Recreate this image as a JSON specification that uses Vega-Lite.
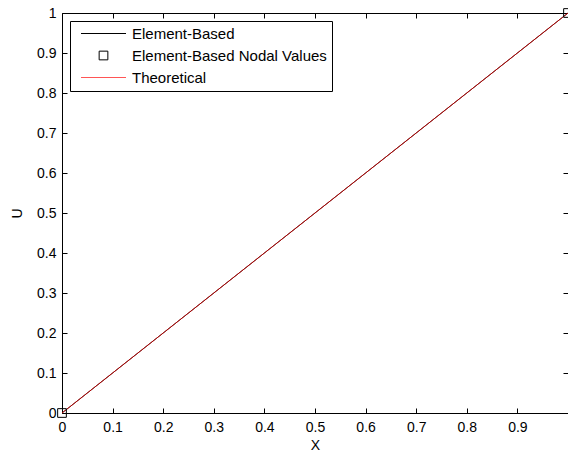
{
  "$schema": "https://vega.github.io/schema/vega-lite/v6.json",
  "width": 506,
  "height": 400,
  "autosize": {"type": "none"},
  "padding": {"left": 62, "top": 13, "right": 0, "bottom": 41},
  "background": "white",
  "config": {
    "view": {"stroke": null},
    "font": "Liberation Sans",
    "axis": {
      "domainColor": "black",
      "tickColor": "black",
      "labelColor": "black",
      "titleColor": "black",
      "labelFont": "Liberation Sans",
      "titleFont": "Liberation Sans",
      "labelFontSize": 14,
      "titleFontSize": 14,
      "titleFontWeight": "normal",
      "labelFlush": false,
      "grid": false,
      "tickSize": -5,
      "domainWidth": 1,
      "tickWidth": 1
    }
  },
  "datasets": {
    "elem": [
      {"x": 0, "u": 0, "series": "Element-Based"},
      {"x": 1, "u": 1, "series": "Element-Based"}
    ],
    "theo": [
      {"x": 0, "u": 0, "series": "Theoretical"},
      {"x": 1, "u": 1, "series": "Theoretical"}
    ],
    "nodes": [
      {"x": 0, "u": 0, "series": "Element-Based Nodal Values"},
      {"x": 1, "u": 1, "series": "Element-Based Nodal Values"}
    ]
  },
  "layer": [
    {
      "data": {"name": "elem"},
      "mark": {"type": "line", "color": "black", "strokeWidth": 1, "clip": false},
      "encoding": {
        "x": {
          "field": "x", "type": "quantitative",
          "scale": {"domain": [0, 1], "nice": false, "zero": false},
          "axis": {"orient": "bottom", "values": [0, 0.1, 0.2, 0.3, 0.4, 0.5, 0.6, 0.7, 0.8, 0.9], "format": "~g", "labelPadding": 12, "labelFlush": false, "title": "X", "titlePadding": 4}
        },
        "y": {
          "field": "u", "type": "quantitative",
          "scale": {"domain": [0, 1], "nice": false, "zero": false},
          "axis": {"orient": "left", "values": [0, 0.1, 0.2, 0.3, 0.4, 0.5, 0.6, 0.7, 0.8, 0.9, 1], "format": "~g", "labelPadding": 11, "labelFlush": false, "title": "U", "titlePadding": 12}
        }
      }
    },
    {
      "data": {"name": "theo"},
      "mark": {"type": "line", "color": "#ff0000", "strokeWidth": 0.7, "clip": false},
      "encoding": {
        "x": {"field": "x", "type": "quantitative", "axis": null},
        "y": {"field": "u", "type": "quantitative", "axis": null}
      }
    },
    {
      "data": {"name": "nodes"},
      "mark": {"type": "point", "filled": false, "size": 100, "strokeWidth": 1, "opacity": 1, "clip": false},
      "encoding": {
        "x": {
          "field": "x", "type": "quantitative",
          "axis": {"orient": "top", "values": [0, 0.1, 0.2, 0.3, 0.4, 0.5, 0.6, 0.7, 0.8, 0.9], "labels": false, "title": null}
        },
        "y": {
          "field": "u", "type": "quantitative",
          "axis": {"orient": "right", "values": [0, 0.1, 0.2, 0.3, 0.4, 0.5, 0.6, 0.7, 0.8, 0.9, 1], "labels": false, "domain": false, "title": null}
        },
        "shape": {
          "field": "series", "type": "nominal",
          "scale": {"domain": ["Element-Based", "Element-Based Nodal Values", "Theoretical"], "range": ["M-4.5,0H4.5", "M-0.87,-0.87H0.87V0.87H-0.87Z", "M-4.5,0H4.5"]},
          "legend": {
            "title": null,
            "orient": "none",
            "legendX": 8,
            "legendY": 8,
            "fillColor": "white",
            "strokeColor": "black",
            "padding": 5,
            "labelFontSize": 15,
            "labelColor": "black",
            "labelFont": "Liberation Sans",
            "labelLimit": 0,
            "symbolSize": 100,
            "symbolStrokeWidth": 1,
            "symbolOffset": 21,
            "labelOffset": 21,
            "rowPadding": 6,
            "cornerRadius": 0
          }
        },
        "color": {
          "field": "series", "type": "nominal",
          "scale": {"domain": ["Element-Based", "Element-Based Nodal Values", "Theoretical"], "range": ["#000000", "#000000", "#ff5555"]},
          "legend": {
            "title": null,
            "orient": "none",
            "legendX": 8,
            "legendY": 8,
            "fillColor": "white",
            "strokeColor": "black",
            "padding": 5,
            "labelFontSize": 15,
            "labelColor": "black",
            "labelFont": "Liberation Sans",
            "labelLimit": 0,
            "symbolSize": 100,
            "symbolStrokeWidth": 1,
            "symbolOffset": 21,
            "labelOffset": 21,
            "rowPadding": 6,
            "cornerRadius": 0
          }
        }
      }
    }
  ],
  "resolve": {"axis": {"x": "independent", "y": "independent"}}
}
